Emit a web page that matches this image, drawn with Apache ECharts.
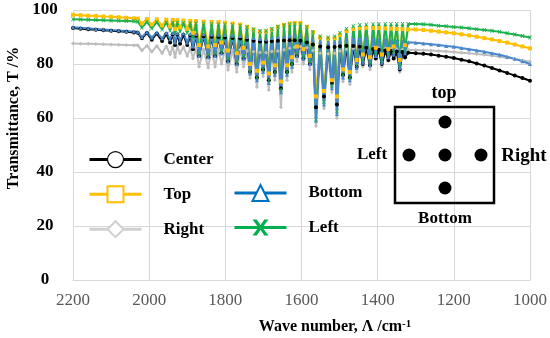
<!DOCTYPE html>
<html>
<head>
<meta charset="utf-8">
<script src="https://cdn.jsdelivr.net/npm/echarts@6/dist/echarts.min.js"></script>
<style>html,body{margin:0;padding:0;background:#fff}#c{width:550px;height:338px}</style>
</head>
<body>
<div id="c"></div>
<script>
const wavenumber = [
2200,2180,2160,2140,2120,2100,2080,2060,2040,2030,
2019,2006,1993,1980,1966,1955,1945,1938,1932,1926,
1919,1910,1900,1892,1885,1877,1869,1857,1845,1836,
1827,1818,1810,1801,1793,1781,1770,1761,1752,1743,
1735,1726,1717,1709,1701,1693,1686,1678,1670,1662,
1654,1646,1638,1631,1625,1618,1612,1603,1595,1586,
1578,1570,1562,1551,1541,1530,1520,1513,1507,1499,
1491,1482,1473,1464,1455,1447,1439,1430,1420,1412,
1405,1397,1389,1380,1372,1365,1358,1350,1342,1335,
1328,1320,
1300,1280,1260,1240,1220,1200,1180,1160,1140,1120,1100,1080,1060,1040,1020,1000];

const center = [
93.3,93.1,92.9,92.7,92.5,92.3,92.1,91.9,91.7,91.6,
89.5,91.5,89,91.3,88.5,91.1,88,91.0,87,90.9,
87.5,90.8,87,90.6,85.5,90.5,83,90.3,82.5,90.1,
83,90.0,84,89.8,81,89.6,80,89.4,82,89.0,
77,88.6,75,88.3,78,88.2,74,88.4,77,88.6,
71,88.7,77,88.8,80,88.8,83,88.6,82,88.0,
80,87.2,64,86.5,68,86.2,73,86.3,65,86.6,
76,86.8,75,86.7,79,86.4,80,86.0,79.5,85.6,
82,85.3,80,85.0,81.5,84.8,82,84.6,78,84.4,
82.5,84.2,
84.0,83.8,83.5,83.1,82.7,82.2,81.6,81.0,80.2,79.4,78.5,77.6,76.7,75.7,74.8,73.8];

const top_ = [
98.2,98.1,97.9,97.8,97.6,97.5,97.3,97.1,96.9,96.8,
95,96.6,94.6,96.5,94.2,96.4,93.8,96.3,93,96.2,
93.5,96.1,93,96.0,91.5,95.9,87,95.7,86.5,95.6,
87,95.5,88,95.3,85,95.0,84,94.6,86,93.8,
80,92.8,77.5,92.0,80.5,92.0,76.5,92.8,79.5,93.8,
73.5,94.5,79.5,95.0,82.5,95.2,86.5,95.2,85.5,93.8,
83,91.8,68,89.8,70,89.4,74,89.6,68,90.8,
78,92.2,77,93.0,81.5,93.3,83.5,93.4,82.5,93.4,
86,93.3,83.5,93.2,85.5,93.1,86.5,93.0,81.5,92.9,
87,92.8,
92.8,92.6,92.3,92.0,91.7,91.4,91.0,90.6,90.1,89.6,89.1,88.5,87.9,87.2,86.5,85.8];

const right = [
87.6,87.5,87.5,87.4,87.3,87.2,87.1,87.0,86.9,86.9,
85,86.8,84.5,86.7,84,86.6,83.5,86.4,82.5,86.5,
84,86.3,83,86.0,82,85.8,79,85.5,78.6,85.6,
79,85.4,80,85.5,77.8,85.2,77,85.3,79,84.8,
74.8,84.5,71.5,84.3,75.5,84.2,70.4,84.6,74,84.8,
64,85.3,74,85.8,77,86.2,81,86.5,80,86.0,
78,85.0,57,84.0,63.5,83.8,69.5,84.0,60,84.8,
73.5,85.5,72.5,85.8,77,86.0,79,86.0,78,85.9,
82,85.8,79,85.7,81,85.6,82,85.5,77,85.4,
82,85.3,
85.2,85.1,85.0,84.8,84.6,84.4,84.2,84.0,83.7,83.4,83.1,82.7,82.3,81.9,81.4,80.8];

const bottom = [
93.6,93.4,93.2,93.0,92.8,92.6,92.4,92.2,92.0,91.9,
90,91.8,89.8,91.7,89.5,91.6,89.2,91.5,88,91.4,
88.8,91.3,88,91.2,86.5,91.1,83,91.0,82.5,90.9,
83,90.8,84,90.7,81,90.5,80,90.4,82,90.0,
76.5,89.6,74,89.3,77,89.2,73,89.6,76,90.0,
69.5,90.3,76,90.6,79,90.8,83,90.8,82,90.0,
80,89.0,59,88.2,65,87.8,71,88.0,61.5,88.6,
75,89.2,74,89.5,78.5,89.6,80.5,89.6,79.5,89.4,
83,89.2,80.5,89.0,82.5,88.8,83.5,88.6,78.5,88.4,
84,88.1,
87.9,87.6,87.3,87.0,86.7,86.4,85.9,85.5,85.0,84.5,84.0,83.4,82.7,81.9,81.0,80.0];

const left = [
96.6,96.5,96.4,96.3,96.2,96.1,96.0,95.9,95.8,95.7,
93.5,95.6,93.2,95.5,92.8,95.4,92.4,95.3,91.5,95.3,
92,95.2,91.5,95.1,89.5,95.0,84,94.9,83.5,94.8,
84,94.7,85,94.6,82,94.4,81,94.2,83,93.6,
77.5,92.8,75,92.2,78,92.3,74,93.0,77,93.8,
70.5,94.3,77,94.6,80,94.8,84,94.8,83,93.6,
81,91.8,59.5,90.2,66,89.8,72,90.2,62.5,91.5,
76,93.0,75,94.0,79.5,94.4,81.5,94.6,80.5,94.7,
84,94.8,81.5,94.8,83.5,94.8,84.5,94.8,79.5,94.8,
85,94.8,
94.8,94.7,94.5,94.2,94.0,93.7,93.5,93.2,92.9,92.6,92.3,91.9,91.4,90.9,90.4,89.8];

const xTicks = {min: 1000, max: 2200, step: 200};
const yTicks = {min: 0, max: 100, step: 20};

const FF = '"Liberation Serif", "Times New Roman", serif';
const xPath = 'path://M0,0L2.6,0L5,3.4L7.4,0L10,0L6.3,5L10,10L7.4,10L5,6.6L2.6,10L0,10L3.7,5Z';

function pts(arr) { return wavenumber.map((w, i) => [w, arr[i]]); }

function mk(name, arr, color, symbol, z) {
  return {
    name, type: 'line', data: pts(arr), z,
    symbol, symbolSize: 4, showAllSymbol: true,
    lineStyle: {color, width: 2},
    itemStyle: {color},
    emphasis: {disabled: true}
  };
}

const legendText = {fontFamily: FF, fontWeight: 'bold', fontSize: 17, color: '#000', padding: [0, 0, 0, 17]};

const option = {
  animation: false,
  backgroundColor: '#fff',
  grid: {left: 73, right: 20, top: 10, bottom: 58, containLabel: false, outerBoundsMode: 'none'},
  xAxis: {
    type: 'value', inverse: true, min: xTicks.min, max: xTicks.max, interval: xTicks.step,
    axisLine: {show: true, lineStyle: {color: '#d9d9d9', width: 1}},
    axisTick: {show: false},
    splitLine: {show: true, lineStyle: {color: '#d9d9d9', width: 1}},
    axisLabel: {color: '#595959', fontFamily: FF, fontSize: 17, margin: 12, formatter: v => String(v)}
  },
  yAxis: {
    type: 'value', min: yTicks.min, max: yTicks.max, interval: yTicks.step,
    axisLine: {show: true, lineStyle: {color: '#d9d9d9', width: 1}},
    axisTick: {show: false},
    splitLine: {show: true, lineStyle: {color: '#d9d9d9', width: 1}},
    axisLabel: {color: '#000', fontFamily: FF, fontWeight: 'bold', fontSize: 17, align: 'center', margin: 28}
  },
  legend: [
    {
      orient: 'vertical', left: 88, top: 151, padding: 0, itemWidth: 52, itemHeight: 20, itemGap: 17,
      selectedMode: false, textStyle: legendText,
      data: [
        {name: 'Center', itemStyle: {color: '#fff', borderColor: '#000', borderWidth: 1.2}, lineStyle: {color: '#000', width: 3}},
        {name: 'Top', itemStyle: {color: '#fff', borderColor: '#FFC000', borderWidth: 2}, lineStyle: {color: '#FFC000', width: 3}},
        {name: 'Right', itemStyle: {color: '#fff', borderColor: '#D0D0D0', borderWidth: 2}, lineStyle: {color: '#D0D0D0', width: 3}}
      ]
    },
    {
      orient: 'vertical', left: 233, top: 184, padding: 0, itemWidth: 52, itemHeight: 20, itemGap: 17,
      selectedMode: false, textStyle: legendText,
      data: [
        {name: 'Bottom', itemStyle: {color: '#fff', borderColor: '#0070C0', borderWidth: 2}, lineStyle: {color: '#0070C0', width: 3}},
        {name: 'Left', itemStyle: {color: '#00B050', borderWidth: 0}, lineStyle: {color: '#00B050', width: 3}}
      ]
    }
  ],
  graphic: [
    {type: 'text', x: 14, y: 118, rotation: Math.PI / 2, z: 10,
      style: {text: 'Transmittance, T /%', font: 'bold 16px ' + FF, fill: '#000', align: 'center', verticalAlign: 'middle'}},
    {type: 'text', x: 335, y: 327, z: 10,
      style: {text: 'Wave number, Λ /cm{s|-1}', font: 'bold 16px ' + FF, fill: '#000', align: 'center', verticalAlign: 'middle',
        rich: {s: {font: 'bold 11px ' + FF, fill: '#000', verticalAlign: 'top', padding: [0, 0, 6, 0]}}}},
    {type: 'rect', z: 10, shape: {x: 395, y: 107, width: 99, height: 96}, style: {fill: null, stroke: '#000', lineWidth: 2.5}},
    {type: 'circle', z: 10, shape: {cx: 445, cy: 122, r: 6.5}, style: {fill: '#000'}},
    {type: 'circle', z: 10, shape: {cx: 409, cy: 155, r: 6.5}, style: {fill: '#000'}},
    {type: 'circle', z: 10, shape: {cx: 445, cy: 155, r: 6.5}, style: {fill: '#000'}},
    {type: 'circle', z: 10, shape: {cx: 481, cy: 155, r: 6.5}, style: {fill: '#000'}},
    {type: 'circle', z: 10, shape: {cx: 445, cy: 188, r: 6.5}, style: {fill: '#000'}},
    {type: 'text', x: 444, y: 93, z: 10, style: {text: 'top', font: 'bold 18px ' + FF, fill: '#000', align: 'center', verticalAlign: 'middle'}},
    {type: 'text', x: 372, y: 155, z: 10, style: {text: 'Left', font: 'bold 17px ' + FF, fill: '#000', align: 'center', verticalAlign: 'middle'}},
    {type: 'text', x: 524, y: 156, z: 10, style: {text: 'Right', font: 'bold 19px ' + FF, fill: '#000', align: 'center', verticalAlign: 'middle'}},
    {type: 'text', x: 445, y: 219, z: 10, style: {text: 'Bottom', font: 'bold 17px ' + FF, fill: '#000', align: 'center', verticalAlign: 'middle'}}
  ],
  series: [
    mk('Right', right, '#BDBDBD', 'diamond', 2),
    mk('Center', center, '#000000', 'circle', 2),
    mk('Top', top_, '#FFC000', 'rect', 2),
    mk('Left', left, '#1DB04E', xPath, 2),
    mk('Bottom', bottom, '#4A88CC', 'triangle', 2)
  ]
};

const chart = echarts.init(document.getElementById('c'), null, {renderer: 'canvas'});
chart.setOption(option);
</script>
</body>
</html>
